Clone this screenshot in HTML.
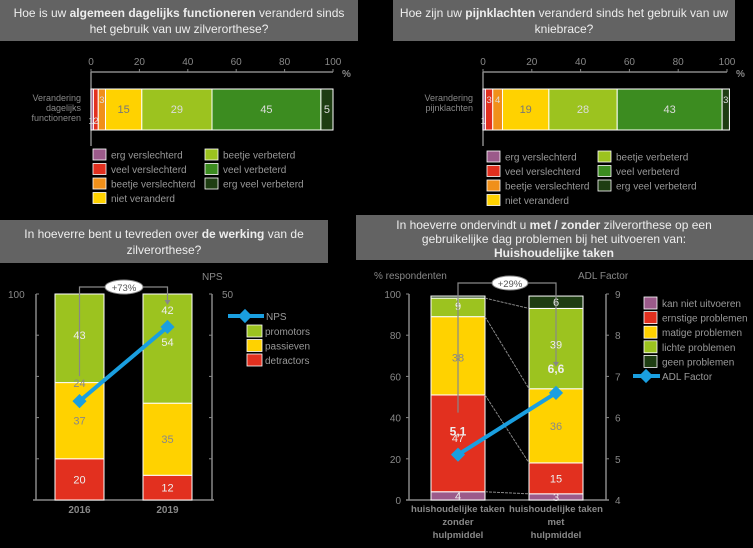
<!DOCTYPE html>
<html><head><meta charset="utf-8">
<style>
html,body{margin:0;padding:0;background:#000;}
svg{display:block;font-family:"Liberation Sans",Arial,sans-serif;}
</style></head>
<body>
<svg id="s" width="753" height="548" viewBox="0 0 753 548" xmlns="http://www.w3.org/2000/svg">
<rect x="0" y="0" width="753" height="548" fill="#000"/>
<g>
<rect x="0" y="0" width="358" height="41" fill="#636363"/>
<text x="179" y="17" text-anchor="middle" font-size="12" fill="#eee">Hoe is uw <tspan font-weight="bold">algemeen dagelijks functioneren</tspan> veranderd sinds</text>
<text x="179" y="33" text-anchor="middle" font-size="12" fill="#eee">het gebruik van uw zilverorthese?</text>
</g>
<g>
<rect x="393" y="0" width="342" height="41" fill="#636363"/>
<text x="564" y="17" text-anchor="middle" font-size="12" fill="#eee">Hoe zijn uw <tspan font-weight="bold">pijnklachten</tspan> veranderd sinds het gebruik van uw</text>
<text x="564" y="33" text-anchor="middle" font-size="12" fill="#eee">kniebrace?</text>
</g>
<g>
<rect x="0" y="220" width="328" height="43" fill="#636363"/>
<text x="164" y="238" text-anchor="middle" font-size="12" fill="#eee">In hoeverre bent u tevreden over <tspan font-weight="bold">de werking</tspan> van de</text>
<text x="164" y="254" text-anchor="middle" font-size="12" fill="#eee">zilverorthese?</text>
</g>
<g>
<rect x="356" y="215" width="397" height="45" fill="#636363"/>
<text x="554" y="229" text-anchor="middle" font-size="12" fill="#eee">In hoeverre ondervindt u <tspan font-weight="bold">met / zonder</tspan> zilverorthese op een</text>
<text x="554" y="243" text-anchor="middle" font-size="12" fill="#eee">gebruikelijke dag problemen bij het uitvoeren van:</text>
<text x="554" y="257" text-anchor="middle" font-size="12" font-weight="bold" fill="#eee">Huishoudelijke taken</text>
</g>
<g id="g1"></g><g id="g2"></g><g id="g3"></g><g id="g4"></g>
</svg>
<script>
const hbarCategories = ["erg verslechterd","veel verslechterd","beetje verslechterd","niet veranderd","beetje verbeterd","veel verbeterd","erg veel verbeterd"];
const funcValues = [1,2,3,15,29,45,5];
const painValues = [1,3,4,19,28,43,3];
const hbarTicks = [0,20,40,60,80,100];
const npsYears = ["2016","2019"];
const npsDetractors = [20,12];
const npsPassives = [37,35];
const npsPromoters = [43,54];
const npsScores = [24,42];
const npsTicksLeft = [100];
const npsRightTop = [50];
const adlCategories = [["huishoudelijke taken","zonder","hulpmiddel"],["huishoudelijke taken","met","hulpmiddel"]];
const adlCannot = [4,3];
const adlSerious = [47,15];
const adlModerate = [38,36];
const adlLight = [9,39];
const adlNone = [1,6];
const adlFactor = [5.1,6.6];
const adlTicksLeft = [0,20,40,60,80,100];
const adlTicksRight = [4,5,6,7,8,9];

const C7 = ["#9b5a8a","#e2301f","#f0901a","#ffd200","#9cc31f","#3c8c20","#1e3d12"];
const NS = "http://www.w3.org/2000/svg";
function el(parent, tag, attrs, txt){
  const e = document.createElementNS(NS, tag);
  for (const k in attrs) e.setAttribute(k, attrs[k]);
  if (txt !== undefined) e.textContent = txt;
  parent.appendChild(e); return e;
}

function hbar(g, x0, x100, values, label, legX1, legX2, legY, prefix){
  const sx = v => x0 + (x100 - x0) * v / 100;
  const axY = 72;
  hbarTicks.forEach(t=>{
    const tl = el(g,"text",{x:sx(t),y:65,"text-anchor":"middle","font-size":10,fill:"#888"},t);
    
    
    el(g,"line",{x1:sx(t),y1:axY,x2:sx(t),y2:axY-3,stroke:"#888"});
  });
  el(g,"line",{x1:x0,y1:axY,x2:x100,y2:axY,stroke:"#888","stroke-width":1.5});
  el(g,"text",{x:x100+9,y:77,"font-size":10,"font-weight":"bold",fill:"#888"},"%");
  el(g,"line",{x1:x0,y1:axY,x2:x0,y2:146,stroke:"#888","stroke-width":1.5});
  label.forEach((l,i)=>el(g,"text",{x:x0-10,y:101+i*10,"text-anchor":"end","font-size":9,fill:"#888"},l));
  let cum = 0;
  values.forEach((v,i)=>{
    const a = sx(cum), b = sx(cum+v);
    const r = el(g,"rect",{x:a,y:89,width:Math.max(b-a,2),height:41,fill:C7[i],stroke:"#fff","stroke-width":1});
    
    
    const small = (b-a) < 10;
    const ty = (i===0) ? 124 : (i===1 && prefix==='func' ? 124 : (small ? 103 : 113));
    const tx = small ? a+ (b-a)/2 + (i===0? -1:0) : (a+b)/2;
    const t = el(g,"text",{x:tx,y:ty,"text-anchor":"middle","font-size":small?9.5:11,fill:(i===3?"#777":"#ddd")},v);
    
    
    cum += v;
  });
  hbarCategories.forEach((c,i)=>{
    const col = i<4 ? legX1 : legX2;
    const row = i<4 ? i : i-4;
    const y = legY + row*14.5;
    el(g,"rect",{x:col,y:y-6,width:13,height:11,fill:C7[i],stroke:"#fff","stroke-width":0.8});
    const lt = el(g,"text",{x:col+18,y:y+3.5,"font-size":10,fill:"#999"},c);
    
    
  });
}
hbar(document.getElementById("g1"), 91, 333, funcValues, ["Verandering","dagelijks","functioneren"], 93, 205, 155, 'func');
hbar(document.getElementById("g2"), 483, 727, painValues, ["Verandering","pijnklachten"], 487, 598, 157, 'pain');

(function(){
  const g = document.getElementById("g3");
  const yL = v => 500 - 206*v/100;
  const yR = v => 500 - 206*v/50;
  const bx = [55,143], bw = 49;
  el(g,"line",{x1:36,y1:294,x2:36,y2:500,stroke:"#888","stroke-width":1.5});
  el(g,"line",{x1:212,y1:294,x2:212,y2:500,stroke:"#888","stroke-width":1.5});
  el(g,"line",{x1:33,y1:500,x2:214,y2:500,stroke:"#888","stroke-width":1.5});
  for(let k=0;k<=5;k++){ const y = 500-206*k/5; el(g,"line",{x1:36,y1:y,x2:39,y2:y,stroke:"#888"}); el(g,"line",{x1:209,y1:y,x2:212,y2:y,stroke:"#888"}); }
  npsTicksLeft.forEach(t=>el(g,"text",{x:8,y:yL(t)+4,"font-size":10,fill:"#888"},t));
  npsRightTop.forEach(t=>el(g,"text",{x:222,y:yR(t)+4,"font-size":10,fill:"#888"},t));
  el(g,"text",{x:202,y:280,"font-size":10,fill:"#888"},"NPS");
  npsYears.forEach((yr,i)=>{
    const segs = [[npsDetractors[i],"#e2301f"],[npsPassives[i],"#ffd200"],[npsPromoters[i],"#9cc31f"]];
    let cum=0;
    segs.forEach((s,j)=>{
      const top = Math.max(yL(cum+s[0]),294), bot = yL(cum);
      const r = el(g,"rect",{x:bx[i],y:top,width:bw,height:bot-top,fill:s[1],stroke:"#fff","stroke-width":1});
      
      
      let ty = (top+bot)/2+4;
      if (j===2) ty = i===0 ? top+45 : top+52;
      el(g,"text",{x:bx[i]+bw/2,y:ty,"text-anchor":"middle","font-size":11,fill:j===1?"#888":"#eee"},s[0]);
      cum += s[0];
    });
    const xl = el(g,"text",{x:bx[i]+bw/2,y:513,"text-anchor":"middle","font-size":10,"font-weight":"bold",fill:"#888"},yr);
    
    
  });
  const c0 = bx[0]+bw/2, c1 = bx[1]+bw/2;
  el(g,"path",{d:`M${c0} ${yR(npsScores[0])-25} V287 H${c1} V${yR(npsScores[1])-25}`,fill:"none",stroke:"#888","stroke-width":1.2});
  el(g,"polygon",{points:`${c1-3},${yR(npsScores[1])-27} ${c1+3},${yR(npsScores[1])-27} ${c1},${yR(npsScores[1])-22}`,fill:"#888"});
  el(g,"ellipse",{cx:124,cy:287,rx:19,ry:7,fill:"#fff",stroke:"#888"});
  el(g,"text",{x:124,y:291,"text-anchor":"middle","font-size":9.5,fill:"#555"},"+73%");
  npsScores.forEach((v,i)=>{ el(g,"text",{x:bx[i]+bw/2,y:yR(v)-(i===0?14:13),"text-anchor":"middle","font-size":11,fill:i===0?"#888":"#eee"},v); });
  const pts = npsScores.map((v,i)=>[bx[i]+bw/2, yR(v)]);
  const ln = el(g,"polyline",{points:pts.map(p=>p.join(",")).join(" "),fill:"none",stroke:"#1a9fe0","stroke-width":4});
  
  
  pts.forEach((p,i)=>{ const d = el(g,"rect",{x:p[0]-5,y:p[1]-5,width:10,height:10,fill:"#1a9fe0",transform:`rotate(45 ${p[0]} ${p[1]})`});   });
  el(g,"line",{x1:228,y1:316,x2:264,y2:316,stroke:"#1a9fe0","stroke-width":4});
  el(g,"rect",{x:240,y:311,width:10,height:10,fill:"#1a9fe0",transform:"rotate(45 245 316)"});
  el(g,"text",{x:266,y:320,"font-size":10,fill:"#999"},"NPS");
  [["promotors","#9cc31f"],["passieven","#ffd200"],["detractors","#e2301f"]].forEach((l,i)=>{
    const y = 331+i*14.5;
    el(g,"rect",{x:247,y:y-6,width:15,height:12,fill:l[1],stroke:"#fff","stroke-width":0.8});
    const t = el(g,"text",{x:265,y:y+4,"font-size":10,fill:"#999"},l[0]);
    
    
  });
})();

(function(){
  const g = document.getElementById("g4");
  const yL = v => 500 - 206*v/100;
  const yR = v => 500 - 206*(v-4)/5;
  const bx = [431,529], bw = 54;
  el(g,"line",{x1:409,y1:294,x2:409,y2:500,stroke:"#888","stroke-width":1.5});
  el(g,"line",{x1:606,y1:294,x2:606,y2:500,stroke:"#888","stroke-width":1.5});
  el(g,"line",{x1:406,y1:500,x2:609,y2:500,stroke:"#888","stroke-width":1.5});
  adlTicksLeft.forEach(t=>{ el(g,"line",{x1:406,y1:yL(t),x2:409,y2:yL(t),stroke:"#888"}); el(g,"text",{x:401,y:yL(t)+4,"text-anchor":"end","font-size":10,fill:"#888"},t); });
  adlTicksRight.forEach(t=>{ el(g,"line",{x1:606,y1:yR(t),x2:609,y2:yR(t),stroke:"#888"}); el(g,"text",{x:615,y:yR(t)+4,"font-size":10,fill:"#888"},t); });
  el(g,"text",{x:374,y:279,"font-size":10,fill:"#888"},"% respondenten");
  el(g,"text",{x:578,y:279,"font-size":10,fill:"#888"},"ADL Factor");
  const cols = ["#9b5a8a","#e2301f","#ffd200","#9cc31f","#1e3d12"];
  const series = [adlCannot,adlSerious,adlModerate,adlLight,adlNone];
  const bounds = [[],[]];
  adlCategories.forEach((cat,i)=>{
    let cum=0;
    series.forEach((s,j)=>{
      const v = s[i];
      const top = yL(cum+v), bot = yL(cum);
      const r = el(g,"rect",{x:bx[i],y:top,width:bw,height:bot-top,fill:cols[j],stroke:"#fff","stroke-width":1});
      
      
      let ty = (top+bot)/2+4;
      if (j===3 && i===0) ty = top+12;
      if (j===3 && i===1) ty = top+40;
      if (j===2 && i===0) ty = top+45;
      if (j===1 && i===0) ty = top+47;
      if (j===4 && i===0) ty = top+10;
      el(g,"text",{x:bx[i]+bw/2,y:ty,"text-anchor":"middle","font-size":11,fill:j===2?"#888":"#eee"},v);
      cum += v;
      bounds[i].push(yL(cum));
    });
    cat.forEach((l,k)=>el(g,"text",{x:bx[i]+bw/2,y:512+k*13,"text-anchor":"middle","font-size":9.5,"font-weight":"bold",fill:"#888"},l));
  });
  [0,1,2,3].forEach(k=>{
    el(g,"line",{x1:bx[0]+bw,y1:bounds[0][k],x2:bx[1],y2:bounds[1][k],stroke:"#888","stroke-width":1,"stroke-dasharray":"3,1"});
  });
  const c0 = bx[0]+bw/2, c1 = bx[1]+bw/2;
  el(g,"path",{d:`M${c0} ${yR(adlFactor[0])-42} V283 H${c1} V${yR(adlFactor[1])-28}`,fill:"none",stroke:"#888","stroke-width":1.2});
  el(g,"polygon",{points:`${c1-3},${yR(adlFactor[1])-31} ${c1+3},${yR(adlFactor[1])-31} ${c1},${yR(adlFactor[1])-26}`,fill:"#888"});
  el(g,"ellipse",{cx:510,cy:283,rx:18,ry:7,fill:"#fff",stroke:"#888"});
  el(g,"text",{x:510,y:287,"text-anchor":"middle","font-size":9.5,fill:"#555"},"+29%");
  adlFactor.forEach((v,i)=>el(g,"text",{x:bx[i]+bw/2,y:yR(v)-(i===0?19:20),"text-anchor":"middle","font-size":12,"font-weight":"bold",fill:"#eee"},String(v).replace(".",",")));
  const pts = adlFactor.map((v,i)=>[bx[i]+bw/2,yR(v)]);
  const ln = el(g,"polyline",{points:pts.map(p=>p.join(",")).join(" "),fill:"none",stroke:"#1a9fe0","stroke-width":4});
  
  
  pts.forEach((p,i)=>{ const d = el(g,"rect",{x:p[0]-5,y:p[1]-5,width:10,height:10,fill:"#1a9fe0",transform:`rotate(45 ${p[0]} ${p[1]})`});   });
  const leg = ["kan niet uitvoeren","ernstige problemen","matige problemen","lichte problemen","geen problemen"];
  leg.forEach((l,i)=>{
    const y = 303+i*14.6;
    el(g,"rect",{x:644,y:y-6,width:13,height:12,fill:cols[i],stroke:"#fff","stroke-width":0.8});
    const t = el(g,"text",{x:662,y:y+4,"font-size":10,fill:"#999"},l);
    
    
  });
  el(g,"line",{x1:633,y1:376,x2:660,y2:376,stroke:"#1a9fe0","stroke-width":4});
  el(g,"rect",{x:641,y:371,width:10,height:10,fill:"#1a9fe0",transform:"rotate(45 646 376)"});
  el(g,"text",{x:662,y:380,"font-size":10,fill:"#999"},"ADL Factor");
})();
</script>
</body></html>
